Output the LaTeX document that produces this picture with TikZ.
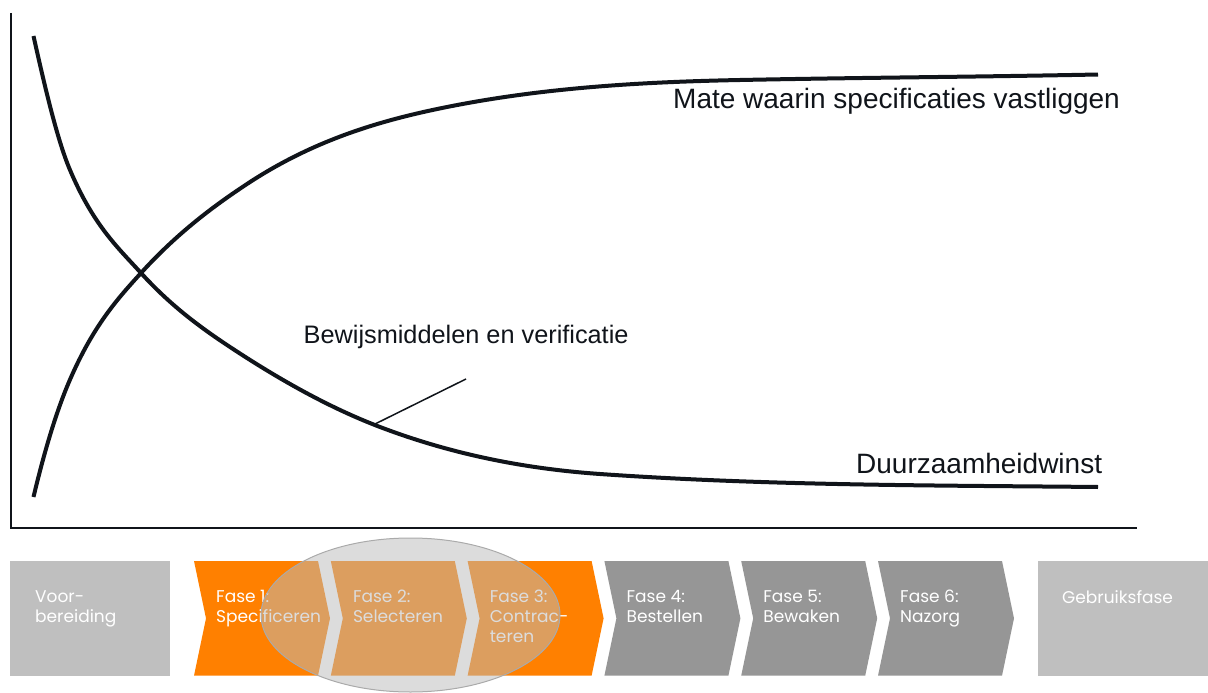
\documentclass[tikz,border=0pt]{standalone}
\usepackage{fontspec}
\setmainfont{Liberation Sans}
\newfontfamily\boxfont{Poppins}
\definecolor{orng}{RGB}{255,128,0}
\definecolor{gchev}{RGB}{150,150,150}
\definecolor{gbox}{RGB}{191,191,191}
\definecolor{ink}{RGB}{16,20,26}
\definecolor{veil}{RGB}{188,188,188}
\definecolor{veilline}{RGB}{170,170,170}
\begin{document}
\begin{tikzpicture}[x=1pt,y=-1pt,
  curve/.style={line width=4pt, draw=ink},
  axisline/.style={line width=2.5pt, draw=ink},
  lbl/.style={anchor=base west, inner sep=0, text=ink, font=\fontsize{28}{32}\selectfont},
  phase/.style={anchor=north west, inner sep=0, align=left, text=white, font=\boxfont\fontsize{17}{20}\selectfont},
]
\useasboundingbox (0,0) rectangle (1208,693);
\fill[white] (0,0) rectangle (1208,693);
% axes
\draw[axisline] (11,13) -- (11,528) -- (1137,528);
% curve: Duurzaamheidwinst (decreasing)
\draw[curve] (33.5,36) .. controls (45.67,90.75) and (57.83,141.4) .. (70,170)
  .. controls (93.67,225.6) and (117.33,246.97) .. (141,273)
  .. controls (170.67,305.63) and (200.33,327.42) .. (230,347)
  .. controls (280,380) and (330,408) .. (380,427)
  .. controls (453.33,454.87) and (526.67,468.87) .. (600,474)
  .. controls (766,485.6) and (932,485.34) .. (1098,487);
% curve: Mate waarin specificaties vastliggen (increasing)
\draw[curve] (33.5,497) .. controls (45.67,445.9) and (57.83,407.58) .. (70,379.6)
  .. controls (93.67,325.17) and (117.33,299.03) .. (141,273)
  .. controls (176.33,234.13) and (211.67,207.32) .. (247,184)
  .. controls (313.67,140) and (380.33,120.33) .. (447,107)
  .. controls (544.67,87.47) and (642.33,81.95) .. (740,80)
  .. controls (859.33,77.61) and (978.67,76.89) .. (1098,74.5);
% labels
\node[lbl] (mate) at (673,108.6) {Mate waarin specificaties vastliggen};
\node[lbl] (duur) at (856,473) {Duurzaamheidwinst};
\node[lbl, font=\fontsize{25.3}{30}\selectfont] (bewijs) at (303.5,343.3) {Bewijsmiddelen en verificatie};
\coordinate (bwcurve) at (375,424);
\coordinate (bwend) at (466,379);
\draw[line width=1.5pt, ink] (bwcurve) -- (bwend);
% phase boxes
\fill[gbox] (10,561) rectangle (170,675.7);
\fill[gbox] (1038,561) rectangle (1208,675.7);
\foreach \i/\c in {0/orng,1/orng,2/orng,3/gchev,4/gchev,5/gchev}{
  \pgfmathsetmacro\L{194+136.8*\i}
  \fill[\c] (\L,561) -- ++(124,0) -- ++(12,57.35) -- ++(-12,57.35) -- ++(-124,0) -- ++(12,-57.35) -- cycle;
}
\node[phase] (voor) at (35,590) {Voor-\\bereiding};
\node[phase] (f1) at (216,590) {Fase 1:\\Specificeren};
\node[phase] (f2) at (352.8,590) {Fase 2:\\Selecteren};
\node[phase] (f3) at (489.6,590) {Fase 3:\\Contrac-\\teren};
\node[phase] (f4) at (626.4,590) {Fase 4:\\Bestellen};
\node[phase] (f5) at (763.2,590) {Fase 5:\\Bewaken};
\node[phase] (f6) at (900,590) {Fase 6:\\Nazorg};
\node[phase] (gebruik) at (1062,590) {Gebruiksfase};
% overlay ellipse
\fill[veil, fill opacity=0.51] (410.5,615) ellipse [x radius=149.5, y radius=77];
\draw[veilline, line width=1pt] (410.5,615) ellipse [x radius=149.5, y radius=77];
\end{tikzpicture}
\end{document}
